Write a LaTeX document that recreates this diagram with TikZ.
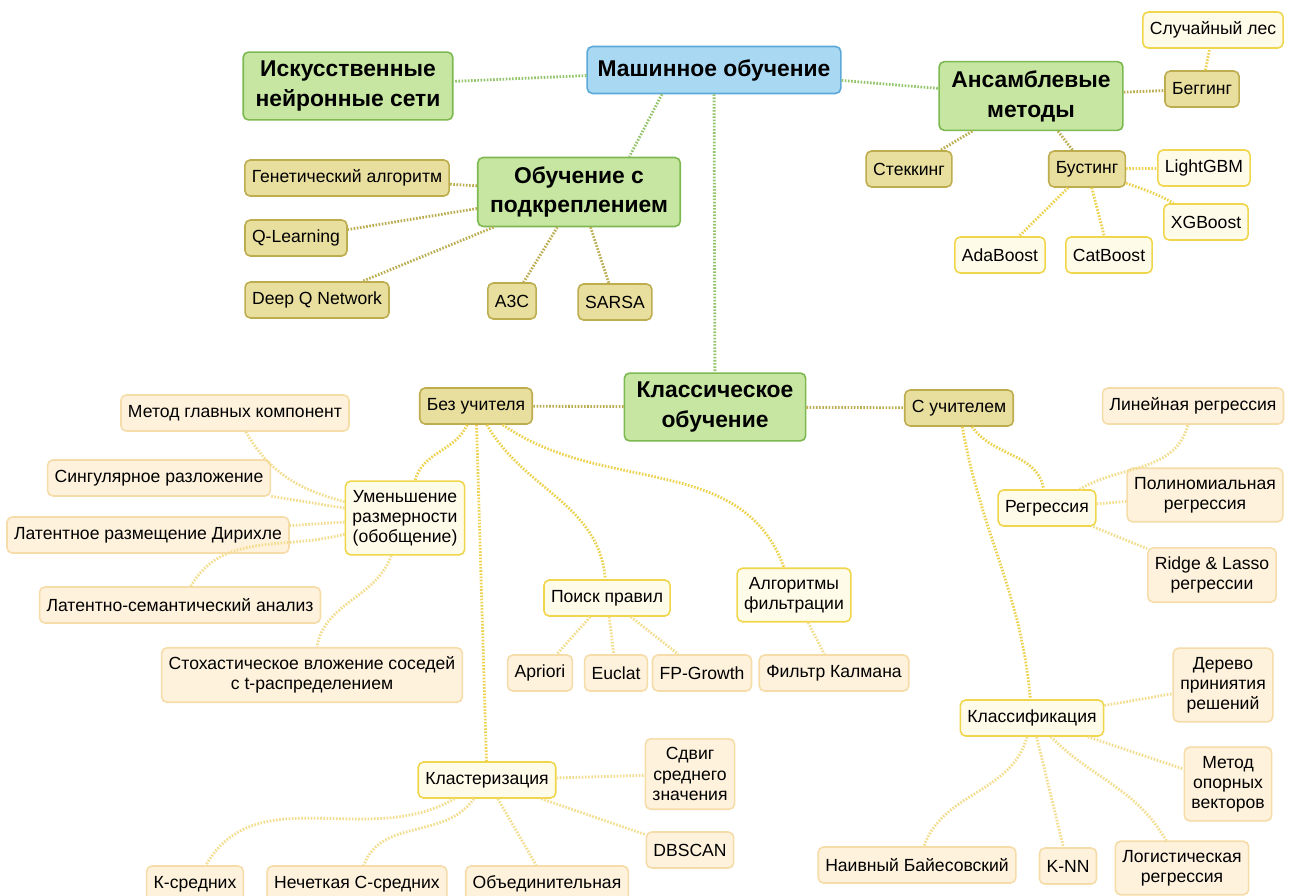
\documentclass[tikz,border=0pt]{standalone}
\usepackage{fontspec}
\setmainfont{Liberation Sans}

\definecolor{rootfill}{HTML}{A9D8F3}
\definecolor{rootline}{HTML}{5CA8D8}
\definecolor{mainfill}{HTML}{C6E6A2}
\definecolor{mainline}{HTML}{7DB850}
\definecolor{subfill}{HTML}{E8DE9E}
\definecolor{subline}{HTML}{BDAD4E}
\definecolor{midfill}{HTML}{FFFBE9}
\definecolor{midline}{HTML}{F0D64C}
\definecolor{leaffill}{HTML}{FEF2DD}
\definecolor{leafline}{HTML}{F6DCA8}
\definecolor{linkA}{HTML}{92C46A}
\definecolor{linkB}{HTML}{BBAD50}
\definecolor{linkC}{HTML}{EED24E}
\definecolor{linkD}{HTML}{F4DD8E}

\begin{document}
\begin{tikzpicture}[x=0.02cm,y=-0.02cm,
  box/.style={rounded corners=3pt,line width=0.9pt,align=center,
    font=\fontsize{10}{11.5}\selectfont,inner xsep=4pt,inner ysep=5pt,minimum height=0.72cm},
  topbox/.style={box,fill=rootfill,draw=rootline,font=\fontsize{13}{17}\selectfont\bfseries,
    inner xsep=6pt,minimum height=0.94cm},
  mainbox/.style={box,fill=mainfill,draw=mainline,font=\fontsize{13}{17}\selectfont\bfseries,
    inner xsep=7pt},
  subbox/.style={box,fill=subfill,draw=subline},
  midbox/.style={box,fill=midfill,draw=midline},
  leafbox/.style={box,fill=leaffill,draw=leafline},
  link/.style={line width=1.6pt,dash pattern=on 0.9pt off 0.9pt}]

\useasboundingbox (0,0) rectangle (1293,895);
\fill[white] (0,0) rectangle (1293,895);
\clip (0,0) rectangle (1293,895);

\node[topbox] (root) at (714,70) {Машинное обучение};
\node[mainbox] (ann) at (348,86) {Искусственные\\нейронные сети};
\node[mainbox] (ens) at (1031,96) {Ансамблевые\\методы};
\node[mainbox] (rl) at (579,192) {Обучение с\\подкреплением};
\node[mainbox] (classic) at (715,407) {Классическое\\обучение};

\node[subbox] (bag) at (1202,89) {Беггинг};
\node[subbox] (stack) at (909,169) {Стеккинг};
\node[subbox] (boost) at (1087,169) {Бустинг};
\node[midbox] (forest) at (1213,30) {Случайный лес};
\node[midbox] (lgbm) at (1204,168) {LightGBM};
\node[midbox] (xgb) at (1206,222) {XGBoost};
\node[midbox] (ada) at (1000,255) {AdaBoost};
\node[midbox] (cat) at (1109,255) {CatBoost};

\node[subbox] (gen) at (347,178) {Генетический алгоритм};
\node[subbox] (qlearn) at (296,238) {Q-Learning};
\node[subbox] (dqn) at (317,300) {Deep Q Network};
\node[subbox] (a3c) at (512,301) {A3C};
\node[subbox] (sarsa) at (615,302) {SARSA};

\node[subbox] (unsup) at (476,406) {Без учителя};
\node[subbox] (sup) at (959,408) {С учителем};

\node[midbox] (dimred) at (405,518) {Уменьшение\\размерности\\(обобщение)};
\node[leafbox] (pca) at (235,413) {Метод главных компонент};
\node[leafbox] (svd) at (159,478) {Сингулярное разложение};
\node[leafbox] (lda) at (148,535) {Латентное размещение Дирихле};
\node[leafbox] (lsa) at (180,605) {Латентно-семантический анализ};
\node[leafbox] (tsne) at (312,675) {Стохастическое вложение соседей\\с t-распределением};

\node[midbox] (rules) at (607,598) {Поиск правил};
\node[leafbox] (apriori) at (540,673) {Apriori};
\node[leafbox] (euclat) at (616,673) {Euclat};
\node[leafbox] (fpg) at (702,673) {FP-Growth};
\node[midbox] (filt) at (794,595) {Алгоритмы\\фильтрации};
\node[leafbox] (kalman) at (834,673) {Фильтр Калмана};

\node[midbox] (clust) at (487,780) {Кластеризация};
\node[leafbox] (meanshift) at (690,774) {Сдвиг\\среднего\\значения};
\node[leafbox] (dbscan) at (690,850) {DBSCAN};
\node[leafbox] (kmeans) at (195,884) {К-средних};
\node[leafbox] (fuzzy) at (357,884) {Нечеткая С-средних};
\node[leafbox] (agglo) at (547,884) {Объединительная};

\node[midbox] (reg) at (1047,508) {Регрессия};
\node[leafbox] (lin) at (1193,406) {Линейная регрессия};
\node[leafbox] (poly) at (1205,495) {Полиномиальная\\регрессия};
\node[leafbox] (ridge) at (1212,575) {Ridge \& Lasso\\регрессии};

\node[midbox] (cls) at (1032,718) {Классификация};
\node[leafbox] (tree) at (1223,685) {Дерево\\приниятия\\решений};
\node[leafbox] (svm) at (1228,784) {Метод\\опорных\\векторов};
\node[leafbox] (bayes) at (917,865) {Наивный Байесовский};
\node[leafbox] (knn) at (1068,866) {K-NN};
\node[leafbox] (logit) at (1182,868) {Логистическая\\регрессия};

\foreach \a/\b in {root/ann,root/ens,root/classic}
  \draw[link,linkA] (\a) -- (\b);
\draw[link,linkA] (root.-155) -- (rl.35);

\foreach \a/\b in {ens/bag,ens/stack,ens/boost,rl/gen,rl/qlearn,rl/dqn,rl/a3c,rl/sarsa,
    classic/unsup,classic/sup}
  \draw[link,linkB] (\a) -- (\b);

\foreach \a/\b in {bag/forest,boost/lgbm,boost/cat,boost/ada,unsup/clust}
  \draw[link,linkC] (\a) -- (\b);
\draw[link,linkC] (boost) to[out=-20,in=150] (xgb);
\draw[link,linkC] (unsup) to[out=-115,in=75] (dimred);
\draw[link,linkC] (unsup) to[out=-60,in=95] (rules);
\draw[link,linkC] (unsup) to[out=-35,in=110] (filt);
\draw[link,linkC] (sup) to[out=-55,in=100] (reg);
\draw[link,linkC] (sup) to[out=-80,in=95] (cls);

\foreach \a/\b in {dimred/svd,dimred/lda,rules/apriori,rules/euclat,rules/fpg,filt/kalman,
    clust/meanshift,clust/dbscan,clust/agglo,reg/poly,reg/ridge,cls/tree,cls/svm,cls/knn}
  \draw[link,linkD] (\a) -- (\b);
\draw[link,linkD] (dimred) to[out=165,in=-60] (pca);
\draw[link,linkD] (dimred) to[out=195,in=60] (lsa);
\draw[link,linkD] (dimred) to[out=-110,in=80] (tsne);
\draw[link,linkD] (clust) to[out=-125,in=70] (fuzzy);
\draw[link,linkD] (clust) to[out=-150,in=60] (kmeans);
\draw[link,linkD] (reg) to[out=30,in=-105] (lin);
\draw[link,linkD] (cls) to[out=-45,in=120] (logit);
\draw[link,linkD] (cls) to[out=-105,in=70] (bayes);

\end{tikzpicture}
\end{document}
